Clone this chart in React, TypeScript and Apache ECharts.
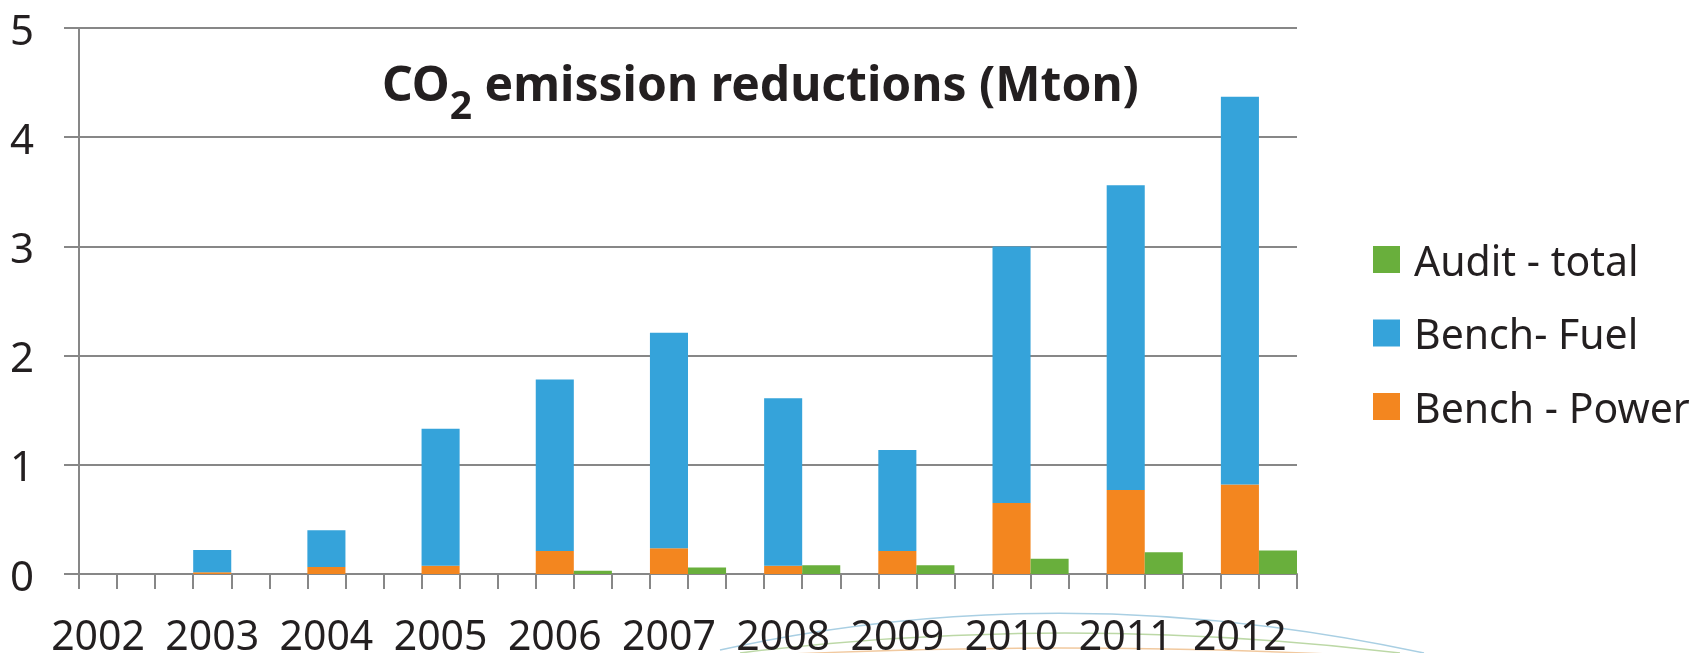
import React, { useEffect, useRef } from "react";
import * as echarts from "echarts";

const years = ["2002", "2003", "2004", "2005", "2006", "2007", "2008", "2009", "2010", "2011", "2012"];
const benchPower = [0, 0.015, 0.064, 0.076, 0.21, 0.235, 0.076, 0.21, 0.65, 0.77, 0.82];
const benchFuel = [0, 0.205, 0.336, 1.254, 1.57, 1.975, 1.534, 0.925, 2.35, 2.79, 3.55];
const auditTotal = [0, 0, 0, 0, 0.03, 0.06, 0.08, 0.08, 0.14, 0.2, 0.215];
const yTicks = [0, 1, 2, 3, 4, 5];

const FONT = "'Noto Sans', 'Open Sans', sans-serif";
const TXT = "#231F20";
const GRID = "#878787";

export default function App() {
  const ref = useRef<HTMLDivElement>(null);
  useEffect(() => {
    if (!ref.current) return;
    const chart = echarts.init(ref.current, null, { renderer: "svg" });

    // 3 slots per year: stacked bench bar, audit bar, gap (no gap after the last year)
    const cats: string[] = [];
    const power: (number | null)[] = [];
    const fuel: (number | null)[] = [];
    const audit: (number | null)[] = [];
    years.forEach((y, i) => {
      cats.push(y);
      power.push(benchPower[i]);
      fuel.push(benchFuel[i]);
      audit.push(null);
      cats.push("");
      power.push(null);
      fuel.push(null);
      audit.push(auditTotal[i]);
      if (i < years.length - 1) {
        cats.push(" ");
        power.push(null);
        fuel.push(null);
        audit.push(null);
      }
    });

    chart.setOption({
      animation: false,
      grid: { left: 79, right: 410, top: 28, bottom: 79, containLabel: false, outerBoundsMode: "none" },
      legend: {
        orient: "vertical",
        left: 1373,
        top: 238,
        padding: 0,
        itemWidth: 27,
        itemHeight: 27,
        itemGap: 30.5,
        icon: "rect",
        data: ["Audit - total", "Bench- Fuel", "Bench - Power"],
        textStyle: { fontFamily: FONT, fontSize: 41, lineHeight: 43, color: TXT, padding: [0, 0, 0, 9] },
      },
      xAxis: {
        type: "category",
        data: cats,
        boundaryGap: true,
        axisLine: { show: true, lineStyle: { color: GRID, width: 2 } },
        axisTick: { show: true, interval: 0, length: 15, alignWithLabel: false, lineStyle: { color: GRID, width: 2 } },
        axisLabel: { interval: 0, margin: 46, fontFamily: FONT, fontSize: 41, lineHeight: 28, color: TXT },
        splitLine: { show: false },
      },
      yAxis: {
        type: "value",
        min: yTicks[0],
        max: yTicks[yTicks.length - 1],
        interval: 1,
        axisLine: { show: true, lineStyle: { color: GRID, width: 2 } },
        axisTick: { show: true, length: 15, lineStyle: { color: GRID, width: 2 } },
        axisLabel: { margin: 45, fontFamily: FONT, fontSize: 42, color: TXT },
        splitLine: { show: true, lineStyle: { color: GRID, width: 2 } },
      },
      series: [
        {
          name: "Bench - Power",
          type: "bar",
          stack: "s",
          data: power,
          barCategoryGap: "0%",
          itemStyle: { color: "#F3861F" },
        },
        {
          name: "Bench- Fuel",
          type: "bar",
          stack: "s",
          data: fuel,
          barCategoryGap: "0%",
          itemStyle: { color: "#35A3DA" },
        },
        {
          name: "Audit - total",
          type: "bar",
          stack: "s",
          data: audit,
          barCategoryGap: "0%",
          itemStyle: { color: "#69AF3C" },
        },
      ],
      graphic: [
        {
          type: "bezierCurve",
          z: -10,
          silent: true,
          shape: { x1: 720, y1: 650, cpx1: 1060, cpy1: 575, x2: 1424, y2: 653 },
          style: { stroke: "#a9cfe3", lineWidth: 1.5, fill: null },
        },
        {
          type: "bezierCurve",
          z: -10,
          silent: true,
          shape: { x1: 740, y1: 653, cpx1: 1060, cpy1: 613, x2: 1400, y2: 653 },
          style: { stroke: "#bcd8a6", lineWidth: 1.5, fill: null },
        },
        {
          type: "bezierCurve",
          z: -10,
          silent: true,
          shape: { x1: 770, y1: 655, cpx1: 1060, cpy1: 641, x2: 1350, y2: 655 },
          style: { stroke: "#f1c99f", lineWidth: 1.5, fill: null },
        },
        {
          type: "text",
          left: 382,
          top: 58,
          z: 100,
          style: {
            text: "{a|CO}{s|2}{a| emission reductions (Mton)}",
            fill: TXT,
            rich: {
              a: { fontFamily: FONT, fontWeight: "bold", fontSize: 48, lineHeight: 48, verticalAlign: "top", fill: TXT },
              s: { fontFamily: FONT, fontWeight: "bold", fontSize: 39, lineHeight: 39, padding: [26, 0, 0, 0], verticalAlign: "top", fill: TXT },
            },
          },
        },
      ],
    });
    return () => chart.dispose();
  }, []);
  return <div ref={ref} style={{ position: "fixed", left: 0, top: 0, width: 1707, height: 653 }} />;
}
